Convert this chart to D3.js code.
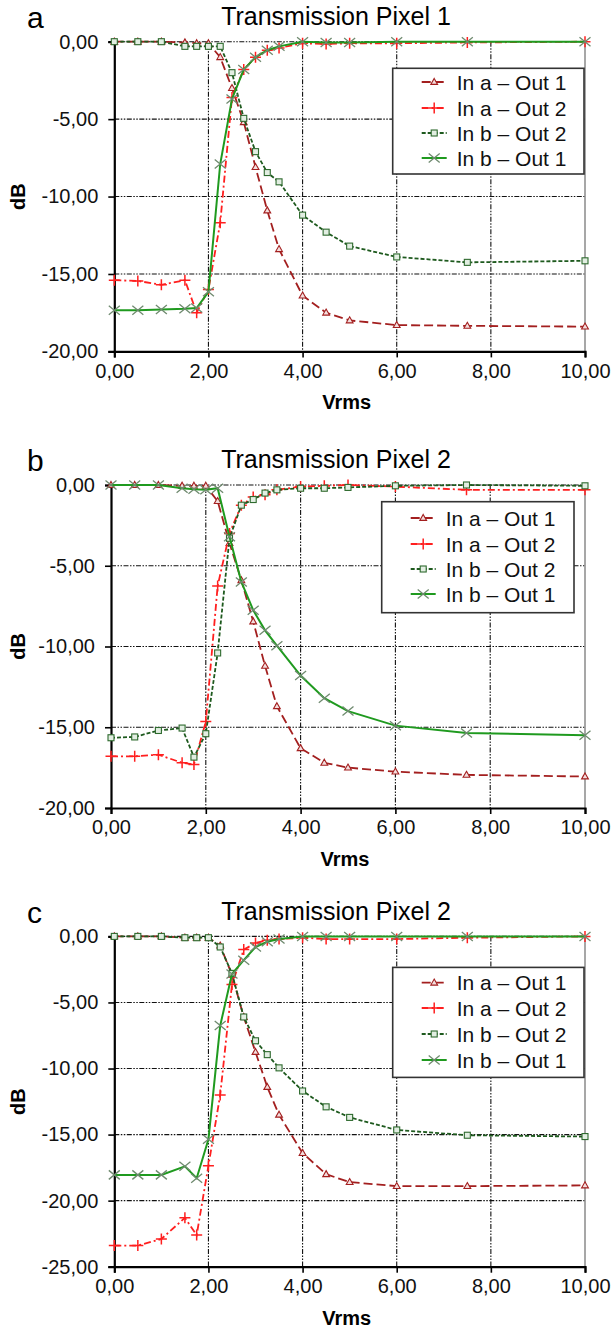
<!DOCTYPE html>
<html>
<head>
<meta charset="utf-8">
<script src="https://cdn.jsdelivr.net/npm/d3@7"></script>
<style>
  body { margin: 0; background: #fff; }
  svg { font-family: "Liberation Sans", Arial, sans-serif; }
</style>
</head>
<body>
<svg id="chart"></svg>
<script>
var width = 614
var height = 1330

// shared x values (Vrms)
var voltages = [0, 0.5, 1, 1.5, 1.75, 2, 2.25, 2.5, 2.75, 3, 3.25, 3.5, 4, 4.5, 5, 6, 7.5, 10]
var xTicks = [0, 2, 4, 6, 8, 10]
var seriesNames = ["In a \u2013 Out 1", "In a \u2013 Out 2", "In b \u2013 Out 2", "In b \u2013 Out 1"]

// panel a - Transmission Pixel 1
var p1_aOut1 = [0, 0, 0, -0.05, -0.1, -0.1, -1.0, -3.0, -5.2, -8.1, -10.9, -13.4, -16.4, -17.5, -18.0, -18.3, -18.35, -18.4]
var p1_aOut2 = [-15.4, -15.45, -15.7, -15.4, -17.5, -16.0, -11.7, -3.6, -1.8, -1.0, -0.55, -0.4, -0.1, -0.15, -0.1, -0.1, -0.05, 0]
var p1_bOut2 = [0, 0, 0, -0.3, -0.3, -0.3, -0.3, -2.0, -4.95, -7.1, -8.45, -9.05, -11.2, -12.3, -13.2, -13.9, -14.25, -14.15]
var p1_bOut1 = [-17.35, -17.35, -17.3, -17.25, -17.2, -16.15, -7.9, -3.7, -1.8, -1.0, -0.55, -0.3, 0, -0.05, -0.05, 0, 0, 0]

// panel b - Transmission Pixel 2
var p2_aOut1 = [0, 0, 0, -0.05, -0.05, -0.05, -1.0, -3.6, -5.9, -8.45, -11.2, -13.7, -16.3, -17.2, -17.5, -17.75, -17.95, -18.05]
var p2_aOut2 = [-16.8, -16.8, -16.7, -17.2, -17.3, -14.65, -6.25, -3.0, -1.25, -0.75, -0.6, -0.3, -0.1, -0.05, 0, -0.1, -0.3, -0.3]
var p2_bOut2 = [-15.65, -15.6, -15.2, -15.05, -16.85, -15.4, -10.4, -3.3, -1.25, -0.9, -0.5, -0.3, -0.2, -0.2, -0.15, -0.05, 0, -0.05]
var p2_bOut1 = [0, 0, 0, -0.2, -0.27, -0.3, -0.2, -3.2, -6.0, -7.75, -9.0, -9.95, -11.8, -13.2, -14.0, -14.9, -15.35, -15.5]

// panel c - Transmission Pixel 2
var p3_aOut1 = [0, 0, 0, -0.1, -0.1, -0.1, -0.7, -2.9, -6.1, -8.75, -11.4, -13.5, -16.4, -18.0, -18.6, -18.9, -18.9, -18.85]
var p3_aOut2 = [-23.4, -23.4, -22.9, -21.3, -22.6, -17.35, -12.0, -3.65, -1.0, -0.5, -0.3, -0.2, -0.1, -0.2, -0.2, -0.2, -0.1, 0]
var p3_bOut2 = [0, 0, 0, -0.1, -0.1, -0.1, -0.8, -2.8, -6.1, -7.9, -8.95, -9.95, -11.7, -12.9, -13.7, -14.65, -15.05, -15.15]
var p3_bOut1 = [-18.05, -18.05, -18.05, -17.4, -18.3, -15.35, -6.75, -2.85, -1.8, -0.8, -0.4, -0.2, 0, 0, 0, 0, 0, 0]

// line styles for the four series
var styles = [
  { color: "#a31f1f", dash: "9,4", width: 1.8, marker: "triangle", mcolor: "#a31f1f" },
  { color: "#ff1f1f", dash: "7,3,2,3", width: 1.8, marker: "plus", mcolor: "#ff1f1f" },
  { color: "#1e5a1e", dash: "4,2", width: 1.8, marker: "square", mcolor: "#2e6a2e" },
  { color: "#1f9a1f", dash: null, width: 2, marker: "cross", mcolor: "#6f8a6f" }
]

var panels = [
  { letter: "a", title: "Transmission Pixel 1", left: 114.3, right: 585, top: 41.7, bottom: 351.4, yMin: -20,
    series: [p1_aOut1, p1_aOut2, p1_bOut2, p1_bOut1],
    legend: { x: 392.7, w: 191.3, y: 26.6, h: 105.7, rows: [40.3, 66.3, 91.3, 116.3] } },
  { letter: "b", title: "Transmission Pixel 2", left: 111, right: 585, top: 485, bottom: 808, yMin: -20,
    series: [p2_aOut1, p2_aOut2, p2_bOut2, p2_bOut1],
    legend: { x: 381.7, w: 192.3, y: 16.7, h: 111, rows: [33, 59, 84, 109] } },
  { letter: "c", title: "Transmission Pixel 2", left: 114.3, right: 585, top: 936.4, bottom: 1266.7, yMin: -25,
    series: [p3_aOut1, p3_aOut2, p3_bOut2, p3_bOut1],
    legend: { x: 392.7, w: 191.3, y: 31, h: 110, rows: [46.3, 71.6, 97.6, 123.6] } }
]

var svg = d3.select("#chart")
  .attr("width", width)
  .attr("height", height)

var fmt = function(v) { return d3.format(".2f")(v).replace(".", ",").replace("\u2212", "-") }

function drawMarker(g, type, color) {
  if (type == "triangle") {
    g.append("path").attr("d", "M0,-3.6L3.4,2.4L-3.4,2.4Z")
      .attr("fill", "#f3dede").attr("stroke", color).attr("stroke-width", 1.1)
  } else if (type == "square") {
    g.append("rect").attr("x", -3).attr("y", -3).attr("width", 6).attr("height", 6)
      .attr("fill", "#e2eee2").attr("stroke", color).attr("stroke-width", 1.1)
  } else if (type == "plus") {
    g.append("path").attr("d", "M-5.5,0H5.5M0,-5.5V5.5")
      .attr("stroke", color).attr("stroke-width", 1.5)
  } else {
    g.append("path").attr("d", "M-5.5,-4.5L5.5,4.5M-5.5,4.5L5.5,-4.5")
      .attr("stroke", color).attr("stroke-width", 1.3)
  }
}

function drawPanel(p) {
  var x = d3.scaleLinear().domain([0, 10]).range([p.left, p.right])
  var y = d3.scaleLinear().domain([p.yMin, 0]).range([p.bottom, p.top])
  var yTicks = d3.range(p.yMin, 0.1, 5)
  var g = svg.append("g")

  // grid
  g.append("g").selectAll("line").data(yTicks.filter(function(d) { return d > p.yMin }))
    .enter().append("line")
    .attr("x1", p.left).attr("x2", p.right)
    .attr("y1", function(d) { return y(d) }).attr("y2", function(d) { return y(d) })
    .attr("stroke", "#111").attr("stroke-width", 1.1).attr("stroke-dasharray", "5,1.5,1.5,1.5,1.5,1.5")
  g.append("g").selectAll("line").data(xTicks.filter(function(d) { return d > 0 && d < 10 }))
    .enter().append("line")
    .attr("y1", p.top).attr("y2", p.bottom)
    .attr("x1", function(d) { return x(d) }).attr("x2", function(d) { return x(d) })
    .attr("stroke", "#111").attr("stroke-width", 1.1).attr("stroke-dasharray", "5,1.5,1.5,1.5,1.5,1.5")
  g.append("line").attr("x1", p.right).attr("x2", p.right).attr("y1", p.top).attr("y2", p.bottom)
    .attr("stroke", "#8a8a8a").attr("stroke-width", 1.5)

  // axes
  var yAxis = d3.axisLeft(y).tickValues(yTicks).tickSize(6).tickFormat(fmt)
  var xAxis = d3.axisBottom(x).tickValues(xTicks).tickSize(6).tickFormat(fmt)
  var ya = g.append("g").attr("transform", "translate(" + p.left + ",0)").call(yAxis)
  var xa = g.append("g").attr("transform", "translate(0," + p.bottom + ")").call(xAxis)
  ;[ya, xa].forEach(function(a) {
    a.select(".domain").attr("stroke", "#000").attr("stroke-width", 2.2)
    a.selectAll(".tick line").attr("stroke", "#000").attr("stroke-width", 1.6)
    a.selectAll("text").attr("font-size", 20).attr("fill", "#111")
      .attr("font-family", "'Liberation Sans', Arial, sans-serif")
  })
  ya.selectAll("text").attr("x", -16)
  xa.selectAll("text").attr("y", 12)

  // series
  p.series.forEach(function(vals, i) {
    var st = styles[i]
    var pts = vals.map(function(v, k) { return [voltages[k], v] })
    var line = d3.line().x(function(d) { return x(d[0]) }).y(function(d) { return y(d[1]) })
    g.append("path").datum(pts).attr("d", line)
      .attr("fill", "none").attr("stroke", st.color).attr("stroke-width", st.width)
      .attr("stroke-dasharray", st.dash)
    var mk = g.append("g").selectAll("g").data(pts).enter().append("g")
      .attr("transform", function(d) { return "translate(" + x(d[0]) + "," + y(d[1]) + ")" })
    mk.each(function() { drawMarker(d3.select(this), st.marker, st.mcolor) })
  })

  // titles
  g.append("text").attr("x", 27).attr("y", p.top - 13.7).attr("font-size", 30).text(p.letter)
  g.append("text").attr("x", 336).attr("y", p.top - 16.7).attr("text-anchor", "middle")
    .attr("font-size", 25).text(p.title)
  g.append("text").attr("transform", "translate(25," + (p.top + p.bottom) / 2 + ") rotate(-90)")
    .attr("text-anchor", "middle").attr("font-size", 20).attr("font-weight", "bold").text("dB")
  g.append("text").attr("x", (p.left + p.right) / 2 - 3).attr("y", p.bottom + 58)
    .attr("text-anchor", "middle").attr("font-size", 20).attr("font-weight", "bold").text("Vrms")

  // legend
  var L = p.legend
  var lg = g.append("g").attr("transform", "translate(" + L.x + "," + (p.top + L.y) + ")")
  lg.append("rect").attr("width", L.w).attr("height", L.h)
    .attr("fill", "#fff").attr("stroke", "#333").attr("stroke-width", 1.6)
  seriesNames.forEach(function(name, i) {
    var st = styles[i]
    var ry = L.rows[i] - L.y
    lg.append("line").attr("x1", 29).attr("x2", 54).attr("y1", ry).attr("y2", ry)
      .attr("stroke", st.color).attr("stroke-width", st.width).attr("stroke-dasharray", st.dash)
    drawMarker(lg.append("g").attr("transform", "translate(41.5," + ry + ")"), st.marker, st.mcolor)
    lg.append("text").attr("x", 64).attr("y", ry).attr("dy", "0.36em")
      .attr("font-size", 21).attr("fill", "#111").text(name)
  })
}

panels.forEach(drawPanel)
</script>
</body>
</html>
